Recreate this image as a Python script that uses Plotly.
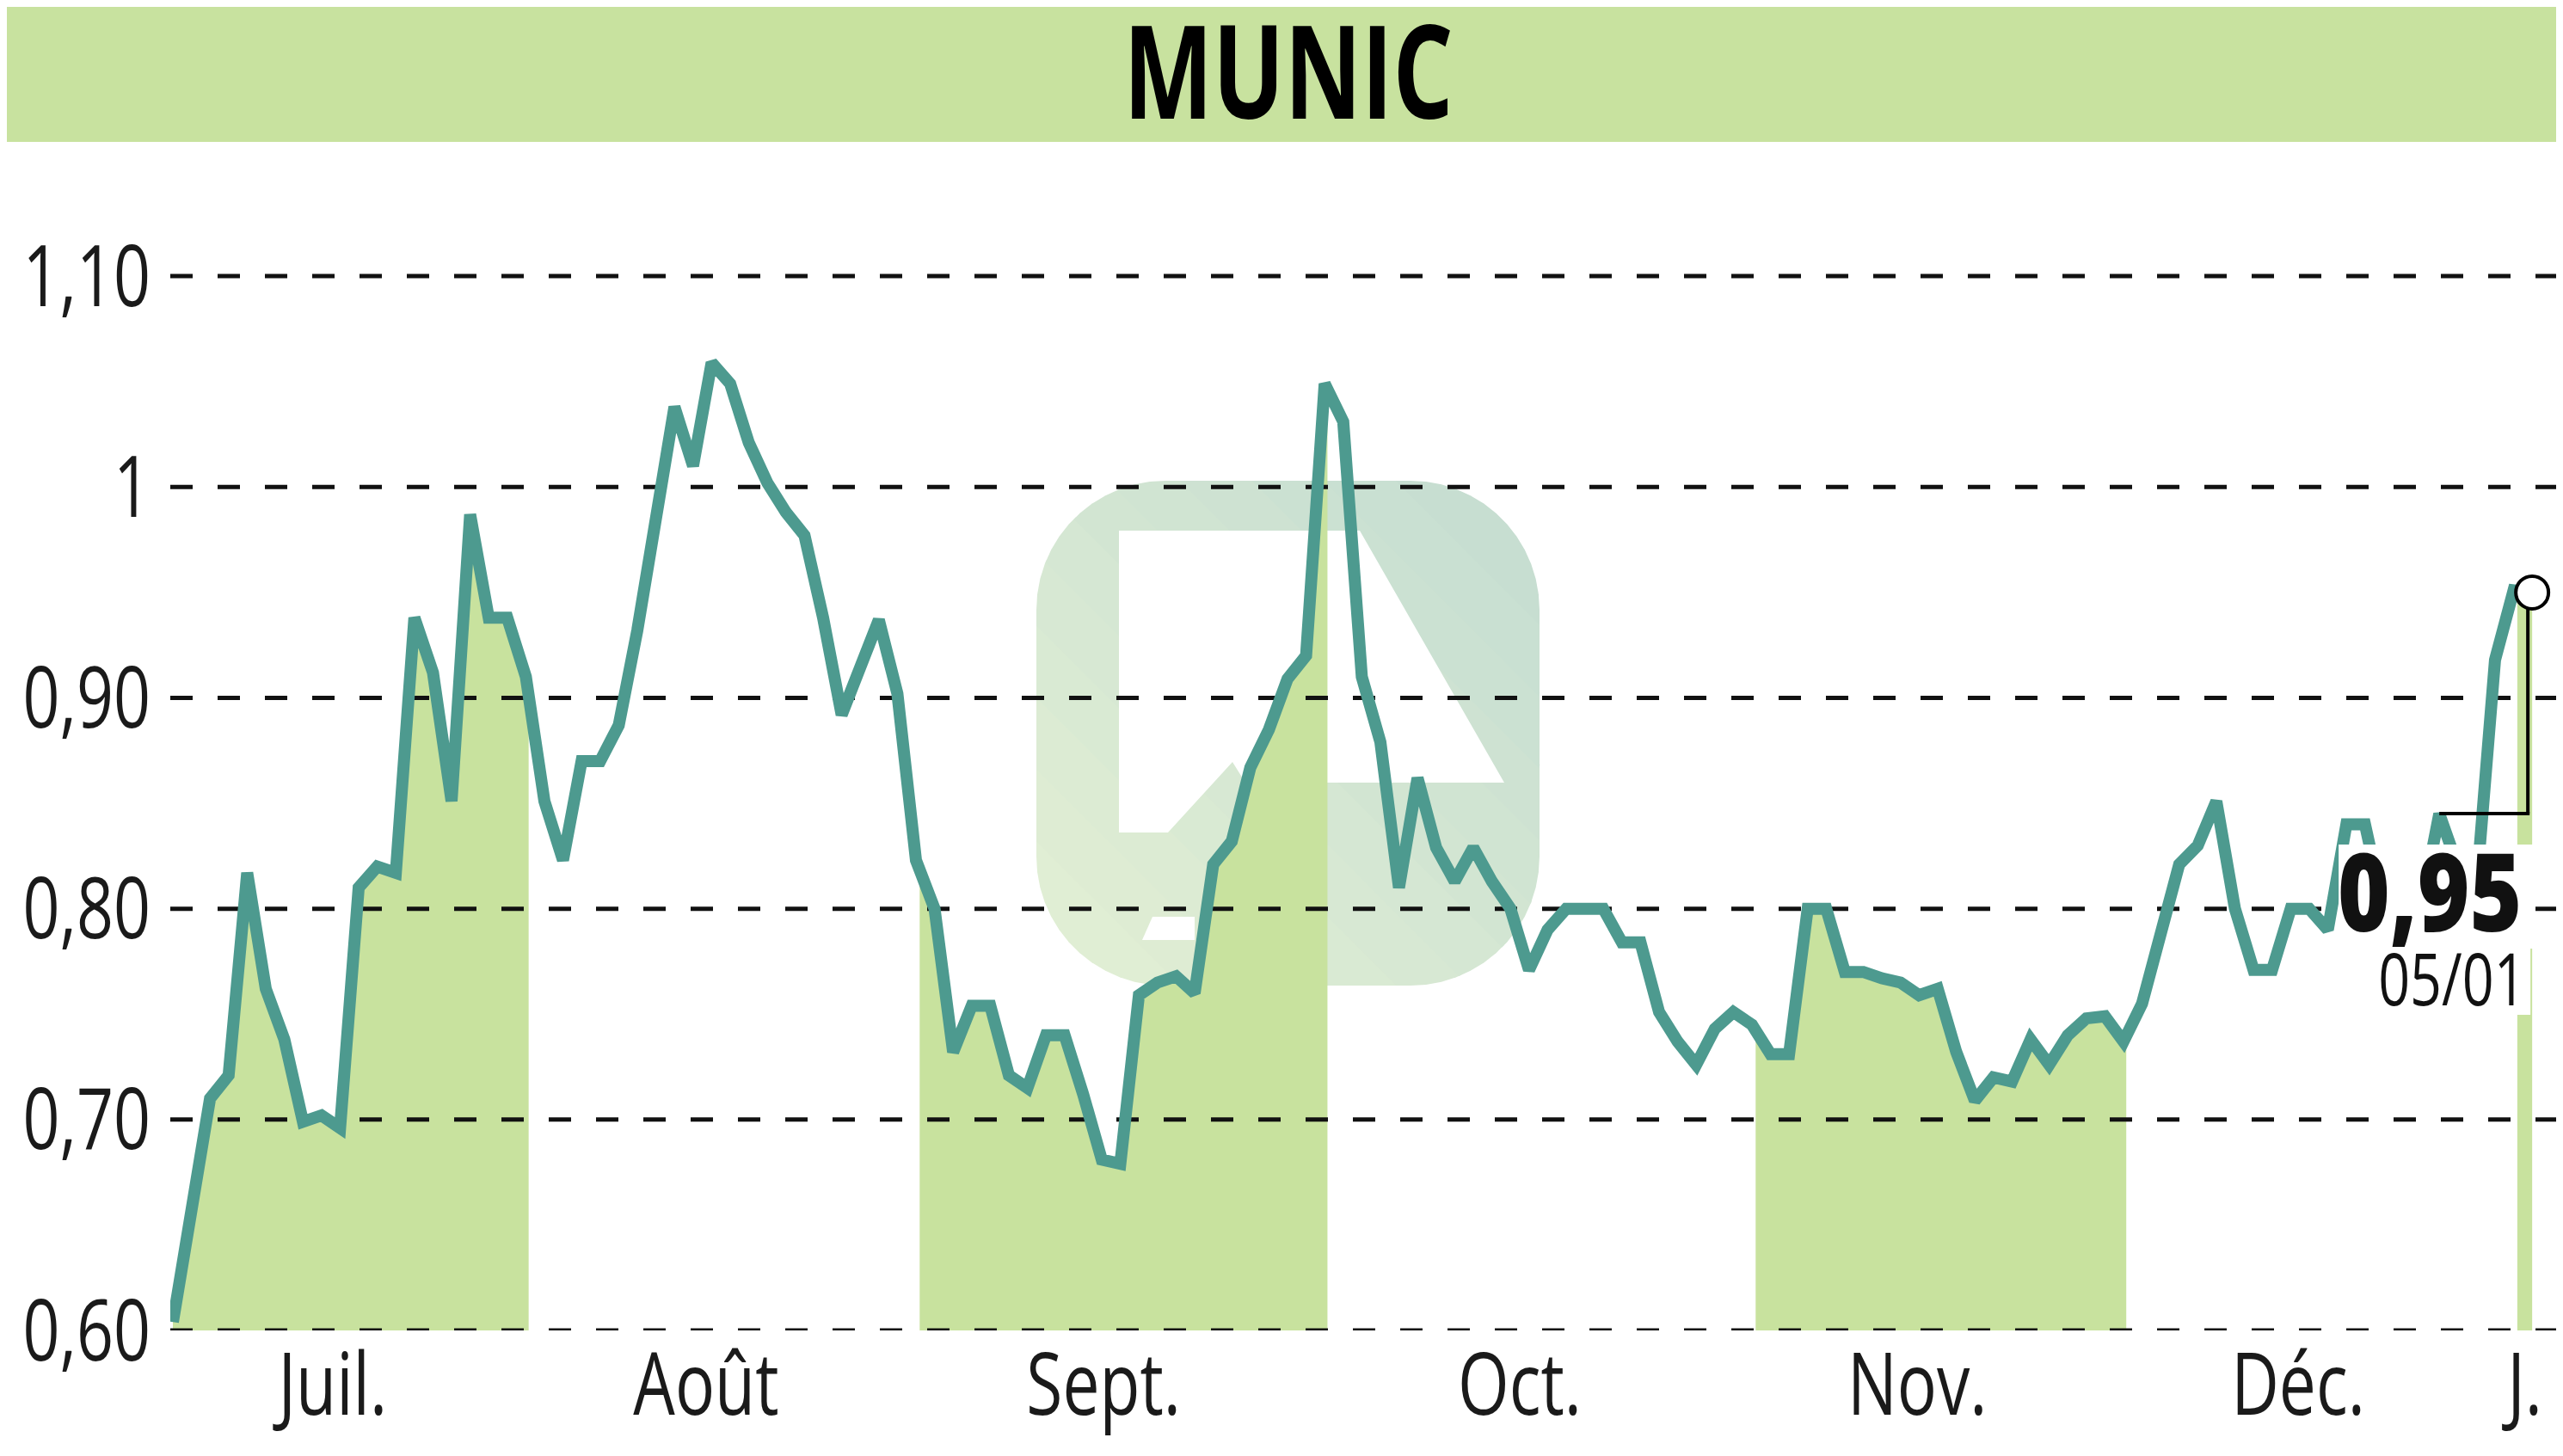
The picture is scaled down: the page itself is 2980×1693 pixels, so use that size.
import numpy as np
import plotly.graph_objects as go

# ---------------- data ----------------
title = "MUNIC"
month_labels = ["Juil.", "Août", "Sept.", "Oct.", "Nov.", "Déc.", "J."]
month_counts = [20, 21, 22, 23, 20, 21, 1]
month_filled = [True, False, True, False, True, False, True]
month_tick_pos = [8.6, 28.7, 50.1, 72.5, 93.9, 114.4, 126.6]

prices = [
    # Juil.
    0.604, 0.656, 0.710, 0.721, 0.817, 0.762, 0.738, 0.699, 0.702, 0.696,
    0.810, 0.820, 0.817, 0.938, 0.912, 0.851, 0.987, 0.938, 0.938, 0.910,
    # Août
    0.851, 0.823, 0.870, 0.870, 0.887, 0.932, 0.985, 1.038, 1.010, 1.059,
    1.049, 1.021, 1.002, 0.988, 0.977, 0.938, 0.892, 0.915, 0.937, 0.902,
    0.823,
    # Sept.
    0.800, 0.732, 0.754, 0.754, 0.721, 0.715, 0.740, 0.740, 0.712, 0.681,
    0.679, 0.759, 0.765, 0.768, 0.760, 0.821, 0.832, 0.867, 0.885, 0.909,
    0.920, 1.049,
    # Oct.
    1.031, 0.910, 0.879, 0.810, 0.862, 0.829, 0.813, 0.829, 0.813, 0.800,
    0.771, 0.790, 0.800, 0.800, 0.800, 0.784, 0.784, 0.751, 0.737, 0.726,
    0.743, 0.751, 0.745,
    # Nov.
    0.731, 0.731, 0.800, 0.800, 0.770, 0.770, 0.767, 0.765, 0.759, 0.762,
    0.732, 0.709, 0.720, 0.718, 0.738, 0.726, 0.740, 0.748, 0.749, 0.737,
    # Déc.
    0.755, 0.790, 0.821, 0.830, 0.851, 0.800, 0.771, 0.771, 0.800, 0.800,
    0.790, 0.840, 0.840, 0.800, 0.780, 0.800, 0.845, 0.820, 0.810, 0.918,
    0.951,
    # J.
    0.950,
]

y_ticks = [0.60, 0.70, 0.80, 0.90, 1.00, 1.10]
y_tick_text = ["0,60", "0,70", "0,80", "0,90", "1", "1,10"]
last_label = "0,95"
last_date = "05/01"

# ---------------- style ----------------
W, H = 2980, 1693
ML, MR, MT, MB = 190, 0, 166, 154
PW, PH = W - ML - MR, H - MT - MB
X_RANGE = [-0.14, 129.03]
Y_RANGE = [0.60, 1.16]
LINE_C = "#4d9a8f"
FILL_C = "#c8e29e"
BANNER_C = "#c8e29f"
WM_LIGHT = (0xE4, 0xF0, 0xD4)   # watermark, lower-left tone
WM_DARK = (0xC3, 0xDC, 0xD1)    # watermark, upper-right tone
FONT = "Open Sans, Noto Sans, DejaVu Sans, sans-serif"
BAND_LEFT, BAND_RIGHT = 0.8, 0.15

x = np.arange(len(prices), dtype=float)
y = np.array(prices)

fig = go.Figure()

# filled month bands (area under the line)
starts = np.concatenate([[0], np.cumsum(month_counts)[:-1]])
for s, c, f in zip(starts, month_counts, month_filled):
    if not f:
        continue
    L = max(s - BAND_LEFT, 0)
    R = min(s + c - 1 + BAND_RIGHT, len(prices) - 1)
    inner = x[(x > L) & (x < R)]
    xs = np.concatenate([[L], inner, [R]])
    ys = np.interp(xs, x, y)
    fig.add_trace(go.Scatter(x=xs, y=ys, mode="none", fill="tozeroy",
                             fillcolor=FILL_C, hoverinfo="skip", showlegend=False))

# dashed grid lines (drawn above the fill, below the price line)
for v in y_ticks:
    fig.add_trace(go.Scatter(x=X_RANGE, y=[v, v], mode="lines",
                             line=dict(color="#111111", width=5, dash="26px,29px"),
                             hoverinfo="skip", showlegend=False, cliponaxis=False))

# price line
fig.add_trace(go.Scatter(x=x, y=y, mode="lines",
                         line=dict(color=LINE_C, width=14),
                         hoverinfo="skip", showlegend=False, cliponaxis=False))

# last value marker
fig.add_trace(go.Scatter(x=[x[-1]], y=[y[-1]], mode="markers",
                         marker=dict(symbol="circle", size=38, color="white",
                                     line=dict(color="black", width=4)),
                         hoverinfo="skip", showlegend=False, cliponaxis=False))


# ---------------- decoration helpers ----------------
def px2paper(px, py):
    return (px - ML) / PW, (H - MB - py) / PH


def poly_path(points):
    parts = []
    for i, (px, py) in enumerate(points):
        a, b = px2paper(px, py)
        parts.append(("M " if i == 0 else "L ") + f"{a:.5f},{b:.5f}")
    return " ".join(parts) + " Z"


def rounded_rect_poly(x0, y0, x1, y1, r, n=14):
    pts = []
    corners = [(x1 - r, y0 + r, -90, 0), (x1 - r, y1 - r, 0, 90),
               (x0 + r, y1 - r, 90, 180), (x0 + r, y0 + r, 180, 270)]
    for cx, cy, a0, a1 in corners:
        for a in np.linspace(np.radians(a0), np.radians(a1), n):
            pts.append((cx + r * np.cos(a), cy + r * np.sin(a)))
    return pts


def clip_halfplane(poly, fn, keep_ge):
    out = []
    m = len(poly)
    for i in range(m):
        p, q = poly[i], poly[(i + 1) % m]
        fp, fq = fn(p), fn(q)
        ip = fp >= 0 if keep_ge else fp <= 0
        iq = fq >= 0 if keep_ge else fq <= 0
        if ip:
            out.append(p)
        if ip != iq:
            t = fp / (fp - fq)
            out.append((p[0] + t * (q[0] - p[0]), p[1] + t * (q[1] - p[1])))
    return out


shapes = [
    # title banner
    dict(type="rect", xref="paper", yref="paper",
         x0=-ML / PW - 0.01, x1=1.01,
         y0=(H - MB - 157) / PH, y1=(H - MB + 5) / PH,
         fillcolor=BANNER_C, line=dict(width=0), layer="below"),
]

# watermark logo: rounded square with a diagonal colour gradient
WX0, WY0, WX1, WY1, WR = 1197, 551, 1782, 1138, 150
outer = rounded_rect_poly(WX0, WY0, WX1, WY1, WR)
NB = 14
span = (WX1 - WX0) + (WY1 - WY0)
for k in range(NB):
    a, b = k / NB, (k + 1) / NB + 0.004
    fa = lambda p, a=a: ((p[0] - WX0) + (WY1 - p[1])) / span - a
    fb = lambda p, b=b: ((p[0] - WX0) + (WY1 - p[1])) / span - b
    band = clip_halfplane(outer, fa, True)
    if len(band) >= 3:
        band = clip_halfplane(band, fb, False)
    if len(band) < 3:
        continue
    t = (k + 0.5) / NB
    col = tuple(int(round(WM_LIGHT[i] + t * (WM_DARK[i] - WM_LIGHT[i]))) for i in range(3))
    shapes.append(dict(type="path", xref="paper", yref="paper", path=poly_path(band),
                       fillcolor="rgb(%d,%d,%d)" % col, line=dict(width=0), layer="below"))

shapes += [
    dict(type="path", xref="paper", yref="paper",
         path=poly_path([(1293, 609), (1573, 609), (1741, 902), (1440, 902),
                         (1425, 878), (1350, 960), (1293, 960)]),
         fillcolor="white", line=dict(width=0), layer="below"),
    dict(type="path", xref="paper", yref="paper",
         path=poly_path([(1332, 1058), (1381, 1058), (1381, 1085), (1320, 1085)]),
         fillcolor="white", line=dict(width=0), layer="below"),
    # white boxes behind the last-value labels
    dict(type="rect", xref="x", yref="y", xsizemode="pixel", ysizemode="pixel",
         xanchor=x[-1], yanchor=y[-1], x0=-225, x1=3, y0=-293, y1=-414,
         fillcolor="white", line=dict(width=0), layer="above"),
    dict(type="rect", xref="x", yref="y", xsizemode="pixel", ysizemode="pixel",
         xanchor=x[-1], yanchor=y[-1], x0=-175, x1=-2, y0=-414, y1=-491,
         fillcolor="white", line=dict(width=0), layer="above"),
    # connector from marker to label
    dict(type="line", xref="x", yref="y", xsizemode="pixel", ysizemode="pixel",
         xanchor=x[-1], yanchor=y[-1], x0=-5, x1=-5, y0=-19, y1=-257,
         line=dict(color="black", width=4), layer="above"),
    dict(type="line", xref="x", yref="y", xsizemode="pixel", ysizemode="pixel",
         xanchor=x[-1], yanchor=y[-1], x0=-108, x1=-3, y0=-257, y1=-257,
         line=dict(color="black", width=4), layer="above"),
]

annotations = [
    dict(x=x[-1], y=y[-1], xref="x", yref="y", text=last_label, showarrow=False,
         xanchor="right", yanchor="middle", xshift=-10, yshift=-346,
         font=dict(family=FONT, size=125, color="#111111", weight=800)),
    dict(x=x[-1], y=y[-1], xref="x", yref="y", text=last_date, showarrow=False,
         xanchor="right", yanchor="middle", xshift=-5, yshift=-447,
         font=dict(family=FONT, size=85, color="#111111")),
]

fig.update_layout(
    width=W, height=H, autosize=False,
    margin=dict(l=ML, r=MR, t=MT, b=MB, pad=0, autoexpand=False),
    paper_bgcolor="white", plot_bgcolor="white",
    showlegend=False,
    title=dict(text=title, x=0.5, xref="container", xanchor="center",
               y=(H - 77) / H, yref="container", yanchor="middle",
               font=dict(family=FONT, size=151, color="black", weight="bold")),
    xaxis=dict(range=X_RANGE, showgrid=False, zeroline=False, showline=False,
               tickmode="array", tickvals=month_tick_pos, ticktext=month_labels,
               ticks="", ticklabelstandoff=-4, automargin=False,
               tickfont=dict(family=FONT, size=101, color="#1a1a1a"),
               fixedrange=True),
    yaxis=dict(range=Y_RANGE, showgrid=False, zeroline=False, showline=False,
               tickmode="array", tickvals=y_ticks, ticktext=y_tick_text,
               ticks="", ticklabelstandoff=22, automargin=False,
               tickfont=dict(family=FONT, size=99, color="#1a1a1a"),
               fixedrange=True),
    shapes=shapes,
    annotations=annotations,
)

# Horizontally condense the text (the original uses a condensed typeface)
condense_js = """
(function(){
  var gd = document.getElementById('{plot_id}');
  if (!gd) return;
  function squeeze(){
    gd.querySelectorAll('text').forEach(function(t){
      if (!t.textContent) return;
      if (t.getAttribute('data-sq') === '1') return;
      var w = t.getComputedTextLength();
      if (!w) return;
      var f = 0.76;
      var fw = (t.style.fontWeight || '').toString();
      if (t.classList.contains('gtitle')) f = 0.73;
      else if (fw === 'bold' || fw === '700' || fw === '800') f = 0.83;
      if (t.classList.contains('annotation-text')) {
        var x0 = parseFloat(t.getAttribute('x') || '0');
        t.setAttribute('x', (x0 + w / 2).toFixed(2));
        t.setAttribute('text-anchor', 'end');
      }
      t.setAttribute('textLength', (w * f).toFixed(2));
      t.setAttribute('lengthAdjust', 'spacingAndGlyphs');
      t.setAttribute('data-sq', '1');
    });
  }
  squeeze();
  if (gd.on) gd.on('plotly_afterplot', squeeze);
})();
"""

fig.write_html("out.html", config={"displayModeBar": False}, post_script=condense_js)
